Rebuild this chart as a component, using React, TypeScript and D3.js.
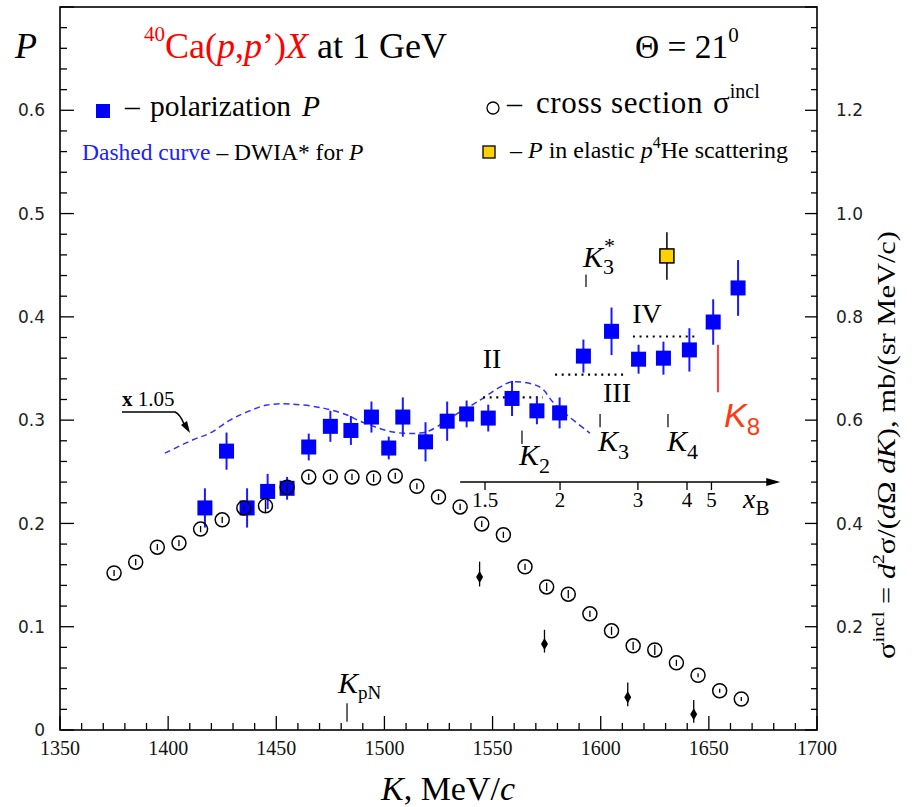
import React from 'react';
import * as d3 from 'd3';

// ---- data ----
const polK = [1417, 1427, 1436.5, 1446, 1455, 1465, 1475, 1484.5, 1494, 1502, 1508.5, 1519, 1529, 1538, 1548, 1559, 1570.5, 1581, 1592, 1605, 1617.5, 1629, 1641, 1652, 1663.5];
const polP = [0.215, 0.270, 0.215, 0.231, 0.234, 0.274, 0.294, 0.290, 0.303, 0.273, 0.303, 0.279, 0.299, 0.306, 0.302, 0.321, 0.309, 0.307, 0.362, 0.386, 0.359, 0.360, 0.368, 0.395, 0.428];
const polErr = [0.019, 0.018, 0.019, 0.017, 0.011, 0.013, 0.015, 0.014, 0.015, 0.011, 0.019, 0.019, 0.019, 0.013, 0.013, 0.017, 0.013, 0.015, 0.016, 0.023, 0.014, 0.016, 0.021, 0.022, 0.027];

const csK = [1375, 1385, 1395, 1405, 1415, 1425, 1435, 1445, 1455, 1465, 1475, 1485, 1495, 1505, 1515, 1525, 1535, 1545, 1555, 1565, 1575, 1585, 1595, 1605, 1615, 1625, 1635, 1645, 1655, 1665];
const csSigma = [0.304, 0.325, 0.354, 0.362, 0.389, 0.407, 0.430, 0.434, 0.470, 0.490, 0.490, 0.490, 0.488, 0.492, 0.472, 0.451, 0.432, 0.399, 0.378, 0.316, 0.277, 0.263, 0.225, 0.192, 0.163, 0.155, 0.130, 0.106, 0.076, 0.060];
const csErr = [0.006, 0.006, 0.006, 0.006, 0.006, 0.006, 0.006, 0.012, 0.008, 0.006, 0.006, 0.006, 0.008, 0.006, 0.006, 0.006, 0.006, 0.006, 0.006, 0.006, 0.008, 0.008, 0.006, 0.008, 0.008, 0.010, 0.006, 0.004, 0.004, 0.004];

const heK = [1630.6];
const heP = [0.459];
const heErr = [0.023];

const dwiaK = [1398.5, 1411.5, 1419.4, 1428.6, 1436.5, 1445.7, 1456.3, 1471.6, 1482.7, 1488.7, 1504, 1516.4, 1521.1, 1534.9, 1542.8, 1553.4, 1559, 1571.9, 1577.9, 1584.4, 1595];
const dwiaP = [0.268, 0.281, 0.2875, 0.300, 0.308, 0.3146, 0.3156, 0.3117, 0.305, 0.299, 0.2885, 0.2875, 0.290, 0.308, 0.3175, 0.332, 0.337, 0.332, 0.3175, 0.305, 0.2875];

const arrowK = [1544, 1574, 1612.5, 1643];
const arrowTopP = [0.163, 0.097, 0.046, 0.029];
const arrowBotP = [0.139, 0.075, 0.023, 0.007];

const levelNames = ['II', 'III', 'IV'];
const levelK0 = [1545.6, 1578.9, 1614.9];
const levelK1 = [1573.3, 1612.1, 1643.6];
const levelP = [0.322, 0.344, 0.381];

const xbTicks = ['1.5', '2', '3', '4', '5'];
const xbTickK = [1546.5, 1581.2, 1617.2, 1639.9, 1651.2];

const leftTickLabels = ['0', '0.1', '0.2', '0.3', '0.4', '0.5', '0.6'];
const leftTickVals = [0, 0.1, 0.2, 0.3, 0.4, 0.5, 0.6];
const rightTickLabels = ['0.2', '0.4', '0.6', '0.8', '1.0', '1.2'];
const rightTickVals = [0.2, 0.4, 0.6, 0.8, 1.0, 1.2];
const bottomTickVals = [1350, 1400, 1450, 1500, 1550, 1600, 1650, 1700];

const SERIF = "'Liberation Serif'";
const SANS = "'DejaVu Sans'";

export default function App() {
  const L = 60, R = 817, T = 7, B = 730;
  const x = d3.scaleLinear().domain([1350, 1700]).range([L, R]);
  const yP = d3.scaleLinear().domain([0, 0.7]).range([B, T]);
  const yS = d3.scaleLinear().domain([0, 1.4]).range([B, T]);

  const minorP = d3.range(0, 0.7001, 0.02);
  const minorK = d3.range(1350, 1700.1, 10);

  const dwiaLine = d3.line<number>()
    .x((_, i) => x(dwiaK[i]))
    .y((d) => yP(d))
    .curve(d3.curveCatmullRom);

  const sq = 15;
  const xbY = 482;
  const serif = { fontFamily: SERIF };

  const kMark = (k: number, p0: number, p1: number) => (
    <line x1={x(k)} x2={x(k)} y1={yP(p0)} y2={yP(p1)} stroke="#000" strokeWidth={1.2} />
  );

  return (
    <svg width={914} height={807} style={{ position: 'absolute', left: 0, top: 0, background: '#fff', fontFamily: SERIF }}>
      <rect x={0} y={0} width={914} height={807} fill="#fff" />

      {/* DWIA dashed curve */}
      <path d={dwiaLine(dwiaP) || ''} fill="none" stroke="#3030ff" strokeWidth={1.5} strokeDasharray="6,4" />

      {/* level dotted lines */}
      {levelP.map((p, i) => (
        <line key={'lv' + i} x1={x(levelK0[i])} x2={x(levelK1[i])} y1={yP(p)} y2={yP(p)} stroke="#000" strokeWidth={2.2} strokeDasharray="2,4.6" />
      ))}

      {/* polarization */}
      {polK.map((k, i) => (
        <g key={'p' + i}>
          <line x1={x(k)} x2={x(k)} y1={yP(polP[i] - polErr[i])} y2={yP(polP[i] + polErr[i])} stroke="#1a1aff" strokeWidth={2} />
          <rect x={x(k) - sq / 2} y={yP(polP[i]) - sq / 2} width={sq} height={sq} fill="#0000ff" />
        </g>
      ))}

      {/* cross section circles */}
      {csK.map((k, i) => (
        <g key={'c' + i}>
          <circle cx={x(k)} cy={yS(csSigma[i])} r={7} fill="none" stroke="#000" strokeWidth={1.5} />
          <line x1={x(k)} x2={x(k)} y1={yS(csSigma[i] - csErr[i])} y2={yS(csSigma[i] + csErr[i])} stroke="#000" strokeWidth={1.3} />
        </g>
      ))}

      {/* p4He point */}
      {heK.map((k, i) => (
        <g key={'he' + i}>
          <line x1={x(k)} x2={x(k)} y1={yP(heP[i] - heErr[i])} y2={yP(heP[i] + heErr[i])} stroke="#000" strokeWidth={1.5} />
          <rect x={x(k) - 7} y={yP(heP[i]) - 7} width={14} height={14} fill="#ffd200" stroke="#000" strokeWidth={1.5} />
        </g>
      ))}

      {/* arrows */}
      {arrowK.map((k, i) => {
        const xx = x(k);
        const y0 = yP(arrowTopP[i]);
        const y1 = yP(arrowBotP[i]);
        const yh = y0 + (y1 - y0) * 0.62;
        return (
          <g key={'a' + i}>
            <line x1={xx} x2={xx} y1={y0} y2={y1} stroke="#000" strokeWidth={1.3} />
            <path d={`M${xx},${yh - 6} L${xx + 3.5},${yh} L${xx},${yh + 6} L${xx - 3.5},${yh} Z`} fill="#000" />
          </g>
        );
      })}

      {/* frame */}
      <rect x={L} y={T} width={R - L} height={B - T} fill="none" stroke="#000" strokeWidth={1.6} />

      {/* left ticks */}
      {minorP.map((v, i) => {
        const major = i % 5 === 0;
        return <line key={'lt' + i} x1={L} x2={L + (major ? 14 : 7)} y1={yP(v)} y2={yP(v)} stroke="#000" strokeWidth={1.3} />;
      })}
      {/* right ticks */}
      {minorP.map((v, i) => {
        const major = i % 5 === 0;
        return <line key={'rt' + i} x1={R} x2={R - (major ? 12 : 6)} y1={yP(v)} y2={yP(v)} stroke="#000" strokeWidth={1.3} />;
      })}
      {/* bottom ticks */}
      {minorK.map((v, i) => {
        const major = i % 5 === 0;
        return <line key={'bt' + i} x1={x(v)} x2={x(v)} y1={B} y2={B - (major ? 14 : 7)} stroke="#000" strokeWidth={1.3} />;
      })}

      {/* tick labels */}
      {leftTickVals.map((v, i) => (
        <text key={'ll' + i} x={45} y={yP(v)} dy="0.36em" textAnchor="end" style={{ fontFamily: SANS }} fontSize={17} fill="#222">{leftTickLabels[i]}</text>
      ))}
      {rightTickVals.map((v, i) => (
        <text key={'rl' + i} x={836} y={yS(v)} dy="0.36em" textAnchor="start" style={{ fontFamily: SANS }} fontSize={17} fill="#222">{rightTickLabels[i]}</text>
      ))}
      {bottomTickVals.map((v, i) => (
        <text key={'bl' + i} x={x(v)} y={755} textAnchor="middle" style={serif} fontSize={20} fill="#111">{v}</text>
      ))}

      {/* axis titles */}
      <text x={15} y={58} style={serif} fontSize={36} fontStyle="italic">P</text>
      <text x={448} y={800} textAnchor="middle" style={serif} fontSize={34}>
        <tspan fontStyle="italic">K</tspan>, MeV/<tspan fontStyle="italic">c</tspan>
      </text>
      <text transform="translate(895,445) rotate(-90)" textAnchor="middle" style={serif} fontSize={25} textLength={428} lengthAdjust="spacingAndGlyphs">
        σ<tspan fontSize={17} dy={-11}>incl</tspan><tspan dy={11}> = </tspan><tspan fontStyle="italic">d</tspan><tspan fontSize={16} dy={-11}>2</tspan><tspan dy={11}>σ/(</tspan><tspan fontStyle="italic">d</tspan>Ω <tspan fontStyle="italic">dK</tspan>), mb/(sr MeV/c)
      </text>

      {/* title */}
      <text x={144} y={58} style={serif} fontSize={36} fill="#ff0000">
        <tspan fontSize={21} dy={-17}>40</tspan><tspan dy={17}>Ca(</tspan><tspan fontStyle="italic">p</tspan>,<tspan fontStyle="italic">p</tspan>’)<tspan fontStyle="italic">X</tspan><tspan fill="#000"> at 1 GeV</tspan>
      </text>
      <text x={635} y={58} style={serif} fontSize={33.5}>
        Θ = 21<tspan fontSize={21} dy={-16}>0</tspan>
      </text>

      {/* legend */}
      <rect x={96} y={104} width={14} height={14} fill="#0000ff" />
      <text x={125} y={116} style={serif} fontSize={29.5}>–</text>
      <text x={150} y={116} style={serif} fontSize={29.5}>polarization</text>
      <text x={302} y={116} style={serif} fontSize={29.5} fontStyle="italic">P</text>
      <text x={82} y={160} style={serif} fontSize={23.5}>
        <tspan fill="#2020ff">Dashed curve</tspan> – DWIA* for <tspan fontStyle="italic">P</tspan>
      </text>
      <circle cx={493} cy={108} r={6} fill="none" stroke="#000" strokeWidth={1.3} />
      <text x={507} y={113} style={serif} fontSize={30}>–</text>
      <text x={536} y={113} style={serif} fontSize={31} letterSpacing={0.6}>cross section</text>
      <text x={713} y={113} style={serif} fontSize={31}>σ<tspan fontSize={20} dy={-15}>incl</tspan></text>
      <rect x={483} y={146} width={12} height={12} fill="#ffd200" stroke="#000" strokeWidth={1.3} />
      <text x={510} y={158} style={serif} fontSize={24}>
        – <tspan fontStyle="italic">P</tspan> in elastic <tspan fontStyle="italic">p</tspan><tspan fontSize={16} dy={-10}>4</tspan><tspan dy={10}>He scattering</tspan>
      </text>

      {/* x1.05 annotation */}
      <text x={122} y={406} style={serif} fontSize={21}><tspan fontWeight="bold">x</tspan> 1.05</text>
      <path d="M122,412 L175,412 Q180,414 184,424" fill="none" stroke="#000" strokeWidth={1.5} />
      <path d="M181,425 L187,421 L190,433 Z" fill="#000" />

      {/* level labels */}
      {levelNames.map((n, i) => (
        <text key={'ln' + i} x={[492, 617, 647][i]} y={[368, 402, 323][i]} textAnchor="middle" style={serif} fontSize={28}>{n}</text>
      ))}

      {/* K markers */}
      {kMark(1482.7, 0.026, 0.008)}
      <text x={338} y={693} style={serif} fontSize={30}><tspan fontStyle="italic">K</tspan><tspan fontSize={19} dy={6}>pN</tspan></text>
      {kMark(1563.6, 0.290, 0.277)}
      <text x={519} y={465} style={serif} fontSize={30}><tspan fontStyle="italic">K</tspan><tspan fontSize={22} dy={8}>2</tspan></text>
      {kMark(1599.7, 0.306, 0.293)}
      <text x={598} y={451} style={serif} fontSize={30}><tspan fontStyle="italic">K</tspan><tspan fontSize={22} dy={8}>3</tspan></text>
      {kMark(1631.1, 0.306, 0.293)}
      <text x={667} y={451} style={serif} fontSize={30}><tspan fontStyle="italic">K</tspan><tspan fontSize={22} dy={8}>4</tspan></text>
      {kMark(1593.2, 0.441, 0.429)}
      <text x={583} y={267} style={serif} fontSize={30}><tspan fontStyle="italic">K</tspan><tspan fontSize={22} dy={7}>3</tspan><tspan fontSize={22} dx={-10} dy={-21}>*</tspan></text>
      <line x1={x(1654.2)} x2={x(1654.2)} y1={yP(0.373)} y2={yP(0.327)} stroke="#ff3b3b" strokeWidth={2} />
      <text x={724} y={427} fontSize={34} fill="#ff3a10" style={{ fontFamily: "'Liberation Sans'" }} fontStyle="italic">K<tspan fontStyle="normal" fontSize={24} dy={8}>8</tspan></text>

      {/* x_B axis */}
      <line x1={x(1535)} x2={x(1678)} y1={xbY} y2={xbY} stroke="#000" strokeWidth={1.5} />
      <path d={`M${x(1683)},${xbY} L${x(1683) - 14},${xbY - 4} L${x(1683) - 14},${xbY + 4} Z`} fill="#000" />
      {xbTickK.map((k, i) => (
        <g key={'xb' + i}>
          <line x1={x(k)} x2={x(k)} y1={xbY} y2={xbY + 8} stroke="#000" strokeWidth={1.3} />
          <text x={x(k)} y={507} textAnchor="middle" style={serif} fontSize={21}>{xbTicks[i]}</text>
        </g>
      ))}
      <text x={743} y={508} style={serif} fontSize={28} fontStyle="italic">x<tspan fontStyle="normal" fontSize={21} dy={7}>B</tspan></text>
    </svg>
  );
}
